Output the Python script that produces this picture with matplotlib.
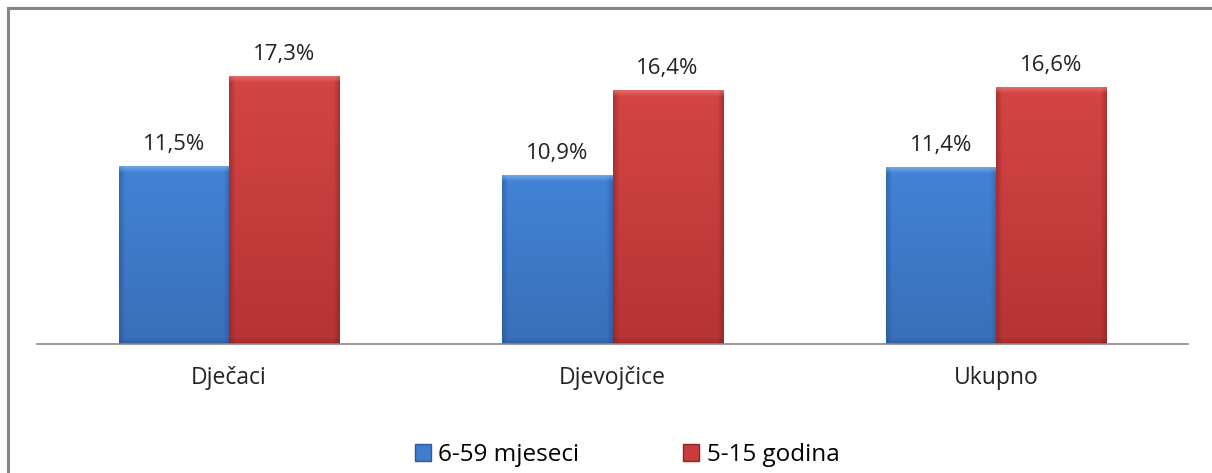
import numpy as np
import matplotlib.pyplot as plt
from matplotlib.patches import Rectangle, Patch
from matplotlib.colors import to_rgb

plt.rcParams['font.family'] = ['Open Sans', 'DejaVu Sans']

categories = ['Dječaci', 'Djevojčice', 'Ukupno']
series_names = ['6-59 mjeseci', '5-15 godina']
vals_small = [11.5, 10.9, 11.4]
vals_school = [17.3, 16.4, 16.6]
labels_small = ['11,5%', '10,9%', '11,4%']
labels_school = ['17,3%', '16,4%', '16,6%']

blue = '#3f7ccb'
red = '#c93c3c'

W, H = 1212, 473
fig = plt.figure(figsize=(W / 100, H / 100), dpi=100)
ax = fig.add_axes([37 / W, (H - 344) / H, (1188 - 37) / W, (344 - 35) / H])

x = np.arange(len(categories))
bw = 0.287
ax.set_xlim(-0.5, 2.5)
ax.set_ylim(0, 20)


def bevel(ax, bars, top, bottom, light, dark, edge=7):
    # office style bevelled bar, drawn as a small rgb image over the bar
    top, bottom, light, dark = [np.array(to_rgb(c)) for c in (top, bottom, light, dark)]
    px_x = W * ax.get_position().width / 3.0
    px_y = H * ax.get_position().height / 20.0
    for b in bars:
        x0, y0 = b.get_x(), b.get_y()
        w, h = b.get_width(), b.get_height()
        nx, ny = int(w * px_x), int(h * px_y)
        t = np.linspace(0, 1, ny)[:, None, None]
        img = np.repeat(top * (1 - t) + bottom * t, nx, axis=1)
        ramp = np.linspace(1, 0, edge)[None, :, None]
        img[:, :edge] = img[:, :edge] * (1 - 0.45 * ramp) + dark * 0.45 * ramp
        img[:, -edge:] = img[:, -edge:] * (1 - 0.45 * ramp[:, ::-1]) + dark * 0.45 * ramp[:, ::-1]
        rv = np.linspace(1, 0, edge)[:, None, None]
        img[:edge] = img[:edge] * (1 - 0.6 * rv) + light * 0.6 * rv
        img[-edge:] = img[-edge:] * (1 - 0.4 * rv[::-1]) + dark * 0.4 * rv[::-1]
        ax.imshow(np.clip(img, 0, 1), aspect='auto', extent=[x0, x0 + w, y0, y0 + h],
                  zorder=b.get_zorder() + 0.1, interpolation='bilinear')


b1 = ax.bar(x - bw / 2, vals_small, bw, color=blue, edgecolor='#2d5a9a', linewidth=0.6, zorder=2)
b2 = ax.bar(x + bw / 2, vals_school, bw, color=red, edgecolor='#8a2626', linewidth=0.6, zorder=2)
bevel(ax, b1, '#4283d6', '#3a6fb8', '#8cbcf0', '#1f4a85')
bevel(ax, b2, '#d44545', '#b63434', '#f08080', '#7a1c1c')

for bars, labs in ((b1, labels_small), (b2, labels_school)):
    for b, t in zip(bars, labs):
        ax.text(b.get_x() + b.get_width() / 2, b.get_height() + 0.75, t,
                ha='center', va='bottom', fontsize=16, color='#222222')

ax.set_xticks(x)
ax.set_xticklabels(categories, fontsize=16.5, color='#222222')
ax.tick_params(axis='x', length=0, pad=16)
ax.set_yticks([])
for s in ['top', 'right', 'left']:
    ax.spines[s].set_visible(False)
ax.spines['bottom'].set_color('#888888')
ax.spines['bottom'].set_linewidth(1.2)
ax.spines['bottom'].set_zorder(3)

# outer chart frame, cut off on the right and bottom
fig.add_artist(Rectangle((8 / W, -0.2), 1.2, 1.2 - 8 / H, transform=fig.transFigure,
                         fill=False, edgecolor='#868686', linewidth=2.2))

handles = [Patch(facecolor=blue, edgecolor='#2d5a9a'), Patch(facecolor=red, edgecolor='#8a2626')]
fig.legend(handles, series_names, loc='center', bbox_to_anchor=(627 / W, 18 / H), ncol=2,
           frameon=False, fontsize=17.5, handlelength=0.65, handleheight=0.65,
           handletextpad=0.3, columnspacing=4.3, borderpad=0.1)

fig.savefig('out.png', dpi=100)
